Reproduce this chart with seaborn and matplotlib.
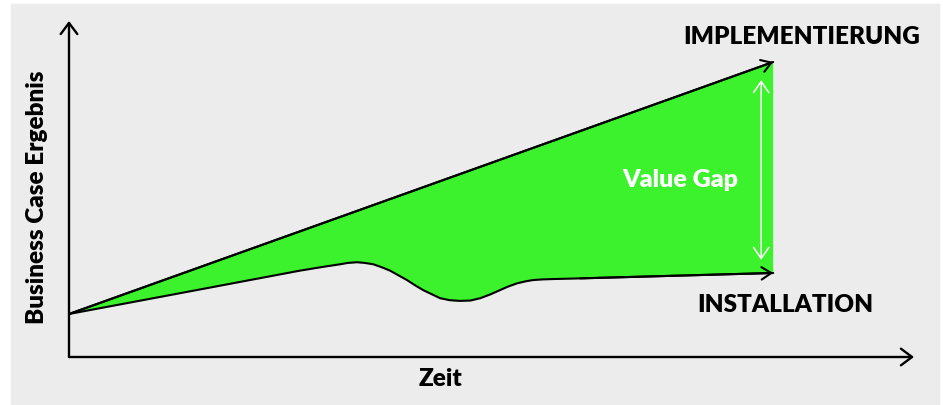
"""Value-Gap-Skizze: Implementierung vs. Installation über die Zeit."""

import matplotlib
matplotlib.use("Agg")
import matplotlib.pyplot as plt
import numpy as np
import seaborn as sns
from matplotlib.patches import Rectangle

# --- data --------------------------------------------------------------
impl_x = [0.0, 10.0]
impl_y = [1.28, 8.78]

inst_x = [0.00, 1.86, 3.28, 3.57, 3.85, 3.96, 4.09, 4.20, 4.32, 4.43, 4.56,
          4.67, 4.80, 4.91, 5.03, 5.16, 5.27, 5.41, 5.55, 5.70, 5.84, 5.98,
          6.12, 6.24, 6.36, 6.48, 6.59, 6.73, 6.88, 7.26, 10.00]
inst_y = [1.28, 2.01, 2.57, 2.67, 2.76, 2.80, 2.82, 2.80, 2.76, 2.68, 2.57,
          2.44, 2.29, 2.14, 1.99, 1.86, 1.75, 1.69, 1.67, 1.68, 1.75, 1.86,
          1.99, 2.10, 2.19, 2.25, 2.29, 2.31, 2.32, 2.34, 2.50]

x_label = "Zeit"
y_label = "Business Case Ergebnis"
impl_label = "IMPLEMENTIERUNG"
inst_label = "INSTALLATION"
gap_label = "Value Gap"

GREEN = "#3bf22c"
GREY = "#ececec"
FONT = dict(family="Lato", weight="heavy")

sns.set_style("white")

fig = plt.figure(figsize=(9.43, 4.05), dpi=100)
fig.add_artist(Rectangle((11 / 943, 0), 928 / 943, 401 / 405,
                         transform=fig.transFigure, color=GREY, zorder=-10))
ax = fig.add_axes([69 / 943, 48 / 405, 845 / 943, 336 / 405])
ax.set_zorder(1)
ax.set_facecolor("none")
ax.set_xlim(0, 12)
ax.set_ylim(0, 10)
ax.set_xticks([])
ax.set_yticks([])
sns.despine(ax=ax, left=True, bottom=True)

# gap area
ax.fill(np.concatenate([impl_x, inst_x[::-1]]),
        np.concatenate([impl_y, inst_y[::-1]]),
        color=GREEN, lw=0, zorder=1)

sns.lineplot(x=impl_x, y=impl_y, color="black", lw=1.5, sort=False, ax=ax, zorder=3)
sns.lineplot(x=inst_x, y=inst_y, color="black", lw=1.5, sort=False, ax=ax, zorder=3)

line_head = "->,head_length=0.7,head_width=0.45"
for xs, ys in [(impl_x, impl_y), (inst_x, inst_y)]:
    ax.annotate("", xy=(xs[-1], ys[-1]), xytext=(xs[-2], ys[-2]),
                annotation_clip=False, zorder=4,
                arrowprops=dict(arrowstyle=line_head, color="black", lw=1.5,
                                shrinkA=0, shrinkB=0))

# axes with arrows
axis_head = "->,head_length=0.8,head_width=0.6"
ax.annotate("", xy=(0, 10), xytext=(0, 0), annotation_clip=False,
            arrowprops=dict(arrowstyle=axis_head, color="black", lw=1.7,
                            shrinkA=0, shrinkB=0))
ax.annotate("", xy=(12, 0), xytext=(0, 0), annotation_clip=False,
            arrowprops=dict(arrowstyle=axis_head, color="black", lw=1.7,
                            shrinkA=0, shrinkB=0))

# value gap double arrow
ax.annotate("", xy=(9.83, 8.24), xytext=(9.83, 2.89), annotation_clip=False,
            arrowprops=dict(arrowstyle="<->,head_length=0.8,head_width=0.55",
                            color="white", lw=1.1, shrinkA=0, shrinkB=0), zorder=5)

ax.text(8.68, 5.27, gap_label, color="white", fontsize=18, ha="center",
        va="center", **FONT)
ax.text(10.41, 9.52, impl_label, color="black", fontsize=17.5, ha="center",
        va="center", clip_on=False, **FONT)
ax.text(10.17, 1.55, inst_label, color="black", fontsize=17.5, ha="center",
        va="center", clip_on=False, **FONT)
ax.text(5.27, -0.655, x_label, color="black", fontsize=17.5, ha="center",
        va="center", clip_on=False, **FONT)
ax.text(-0.45, 4.76, y_label, color="black", fontsize=17.5, ha="center",
        va="center", rotation=90, clip_on=False, **FONT)

fig.savefig("out.png", dpi=100)
plt.close(fig)
